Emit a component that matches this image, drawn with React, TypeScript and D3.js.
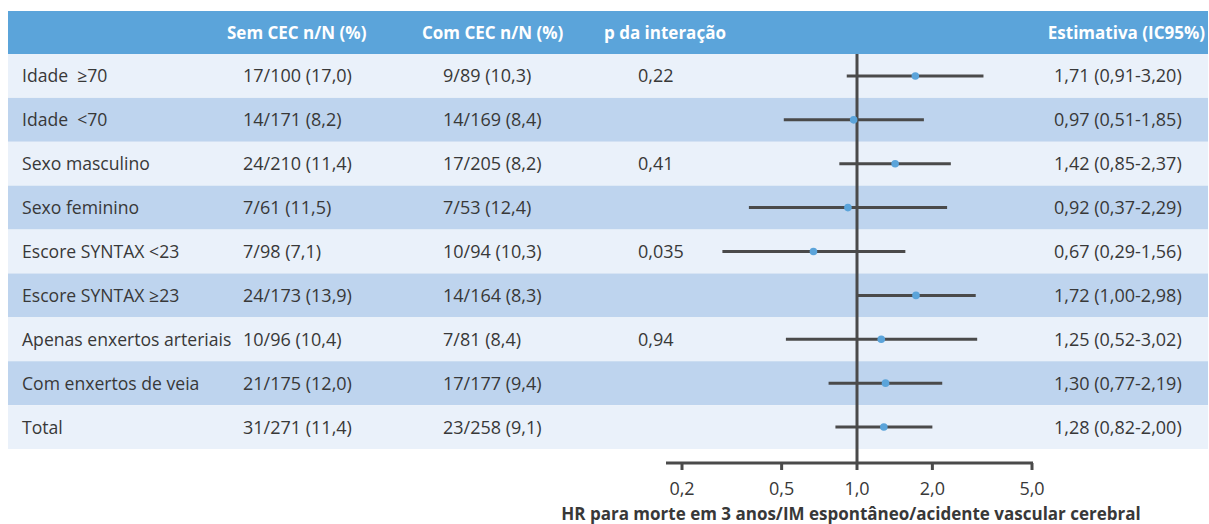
import React from "react";
import * as d3 from "d3";

const labels = [
  "Idade  ≥70",
  "Idade  <70",
  "Sexo masculino",
  "Sexo feminino",
  "Escore SYNTAX <23",
  "Escore SYNTAX ≥23",
  "Apenas enxertos arteriais",
  "Com enxertos de veia",
  "Total",
];
const semCEC = [
  "17/100 (17,0)",
  "14/171 (8,2)",
  "24/210 (11,4)",
  "7/61 (11,5)",
  "7/98 (7,1)",
  "24/173 (13,9)",
  "10/96 (10,4)",
  "21/175 (12,0)",
  "31/271 (11,4)",
];
const comCEC = [
  "9/89 (10,3)",
  "14/169 (8,4)",
  "17/205 (8,2)",
  "7/53 (12,4)",
  "10/94 (10,3)",
  "14/164 (8,3)",
  "7/81 (8,4)",
  "17/177 (9,4)",
  "23/258 (9,1)",
];
const pInteraction = ["0,22", "", "0,41", "", "0,035", "", "0,94", "", ""];
const hr = [1.71, 0.97, 1.42, 0.92, 0.67, 1.72, 1.25, 1.3, 1.28];
const ciLow = [0.91, 0.51, 0.85, 0.37, 0.29, 1.0, 0.52, 0.77, 0.82];
const ciHigh = [3.2, 1.85, 2.37, 2.29, 1.56, 2.98, 3.02, 2.19, 2.0];
const estimates = [
  "1,71 (0,91-3,20)",
  "0,97 (0,51-1,85)",
  "1,42 (0,85-2,37)",
  "0,92 (0,37-2,29)",
  "0,67 (0,29-1,56)",
  "1,72 (1,00-2,98)",
  "1,25 (0,52-3,02)",
  "1,30 (0,77-2,19)",
  "1,28 (0,82-2,00)",
];
const tickValues = [0.2, 0.5, 1.0, 2.0, 5.0];
const tickLabels = ["0,2", "0,5", "1,0", "2,0", "5,0"];
const headers = ["Sem CEC n/N (%)", "Com CEC n/N (%)", "p da interação", "Estimativa (IC95%)"];
const axisTitle = "HR para morte em 3 anos/IM espontâneo/acidente vascular cerebral";

const W = 1209;
const H = 524;
const FONT = "'Open Sans', 'Noto Sans', sans-serif";
const TEXT = "#383838";
const LINE = "#4a4a4a";
const HEADER_BG = "#5ba4da";
const ROW_LIGHT = "#eaf1fa";
const ROW_DARK = "#bed4ee";
const DOT = "#5ba4da";

export default function App() {
  const tableLeft = 8;
  const tableRight = 1208;
  const headerTop = 11;
  const headerBottom = 54;
  const rowsBottom = 449;

  const y = d3
    .scaleBand<number>()
    .domain(d3.range(labels.length))
    .range([headerBottom, rowsBottom])
    .padding(0);

  const x = d3.scaleLog().domain([0.2, 5]).range([682, 1032]);
  const axisY = 463;

  const colX = { label: 22, sem: 243, com: 443, p: 638, est: 1054 };
  const headerX = { sem: 227, com: 422, p: 604, estEnd: 1205 };

  return (
    <svg
      width={W}
      height={H}
      style={{ position: "absolute", left: 0, top: 0, background: "#fff" }}
      fontFamily={FONT}
    >
      <rect x={tableLeft} y={headerTop} width={tableRight - tableLeft} height={headerBottom - headerTop} fill={HEADER_BG} />
      <g fill="#fff" fontWeight={700} fontSize={17}>
        <text x={headerX.sem} y={39}>{headers[0]}</text>
        <text x={headerX.com} y={39}>{headers[1]}</text>
        <text x={headerX.p} y={39}>{headers[2]}</text>
        <text x={headerX.estEnd} y={39} textAnchor="end">{headers[3]}</text>
      </g>

      {labels.map((lab, i) => {
        const y0 = y(i)!;
        const cy = y0 + y.bandwidth() / 2;
        return (
          <g key={i}>
            <rect x={tableLeft} y={y0} width={tableRight - tableLeft} height={y.bandwidth()} fill={i % 2 === 0 ? ROW_LIGHT : ROW_DARK} />
            <g fill={TEXT} fontSize={18}>
              <text x={colX.label} y={cy + 6.5} fontSize={17.6} style={{ whiteSpace: "pre" }}>{lab}</text>
              <text x={colX.sem} y={cy + 6.5}>{semCEC[i]}</text>
              <text x={colX.com} y={cy + 6.5}>{comCEC[i]}</text>
              <text x={colX.p} y={cy + 6.5}>{pInteraction[i]}</text>
              <text x={colX.est} y={cy + 6.5}>{estimates[i]}</text>
            </g>
          </g>
        );
      })}

      {/* reference line at HR = 1 */}
      <line x1={x(1)} x2={x(1)} y1={headerBottom} y2={axisY} stroke={LINE} strokeWidth={3} />

      {labels.map((_, i) => {
        const cy = y(i)! + y.bandwidth() / 2;
        return (
          <g key={"ci" + i}>
            <line x1={x(ciLow[i])} x2={x(ciHigh[i])} y1={cy} y2={cy} stroke={LINE} strokeWidth={3} />
            <circle cx={x(hr[i])} cy={cy} r={3.8} fill={DOT} />
          </g>
        );
      })}

      {/* axis */}
      <line x1={666} x2={x(5) + 1} y1={axisY} y2={axisY} stroke={LINE} strokeWidth={3} />
      {tickValues.map((t, i) => (
        <g key={"t" + i}>
          <line x1={x(t)} x2={x(t)} y1={axisY} y2={axisY + 7} stroke={LINE} strokeWidth={3} />
          <text x={x(t)} y={495} textAnchor="middle" fill={TEXT} fontSize={18}>{tickLabels[i]}</text>
        </g>
      ))}
      <text x={851} y={520} textAnchor="middle" fill={TEXT} fontSize={17} fontWeight={700}>{axisTitle}</text>
    </svg>
  );
}
